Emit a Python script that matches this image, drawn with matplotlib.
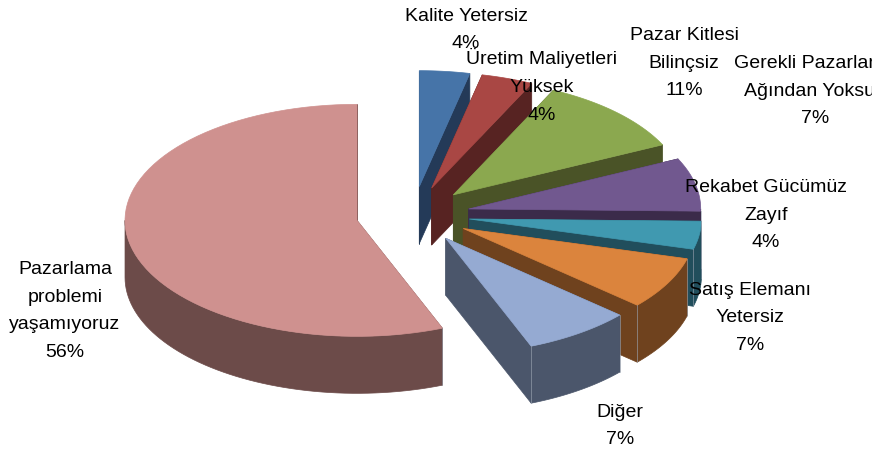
import numpy as np
import matplotlib
matplotlib.use('Agg')
import matplotlib.pyplot as plt
from matplotlib.patches import Polygon

plt.rcParams['font.family'] = ['Liberation Sans', 'DejaVu Sans']

# shares as measured from the slice angles, the labels show the rounded ones
shares = [3.5, 3.6, 10.8, 7.4, 3.9, 7.3, 7.5, 56.0]
labels = ['Kalite Yetersiz\n4%', 'Üretim Maliyetleri\nYüksek\n4%', 'Pazar Kitlesi\nBilinçsiz\n11%',
          'Gerekli Pazarlama\nAğından Yoksun\n7%', 'Rekabet Gücümüz\nZayıf\n4%',
          'Satış Elemanı\nYetersiz\n7%', 'Diğer\n7%', 'Pazarlama\nproblemi\nyaşamıyoruz\n56%']
top_colors = ['#4674A8', '#A94744', '#8BA84F', '#71588F', '#4099B0', '#DB843D', '#95AAD2', '#CF918F']
wall_colors = ['#243A58', '#572322', '#4A5327', '#3B2B4A', '#214E5C', '#6F421E', '#4B566B', '#6C4B49']
label_pos = [(466, 30), (542, 86), (684, 63), (815, 91), (766, 215), (750, 318), (620, 426), (65, 311)]

center_x, center_y = 413, 215
rx, ry = 232, 116
depth = 57
explode = 57


def rim(theta, x0, y0):
    return np.column_stack((x0 + rx * np.sin(theta), y0 - ry * np.cos(theta)))


fig = plt.figure(figsize=(8.72, 4.51), dpi=100)
ax = fig.add_axes([0, 0, 1, 1])
ax.set_xlim(0, 872)
ax.set_ylim(451, 0)
ax.axis('off')

edges = np.radians(np.cumsum([0] + shares) / sum(shares) * 360)
slices = []
for i in range(len(shares)):
    a, b = edges[i], edges[i + 1]
    mid = (a + b) / 2
    x0 = center_x + explode * np.sin(mid)
    y0 = center_y - explode * ry / rx * np.cos(mid)
    slices.append((y0, i, a, b, x0))

# back to front
for y0, i, a, b, x0 in sorted(slices, key=lambda s: s[0]):
    shift = np.array([0, depth])
    apex = np.array([[x0, y0]])

    # cut faces
    for t in (a, b):
        p = rim(np.array([t]), x0, y0)
        quad = np.vstack((apex, p, p + shift, apex + shift))
        ax.add_patch(Polygon(quad, closed=True, fc=wall_colors[i], ec=wall_colors[i], lw=0.5))

    # outer wall, only the front half of the rim can be seen
    lo, hi = max(a, np.pi / 2), min(b, 3 * np.pi / 2)
    if hi > lo:
        arc = rim(np.linspace(lo, hi, 60), x0, y0)
        wall = np.vstack((arc, (arc + shift)[::-1]))
        ax.add_patch(Polygon(wall, closed=True, fc=wall_colors[i], ec=wall_colors[i], lw=0.5))
        for t in (a, b):
            if lo <= t <= hi:
                p = rim(np.array([t]), x0, y0)
                ax.plot([p[0, 0], p[0, 0]], [p[0, 1], p[0, 1] + depth], color='#9AA3B0', lw=0.6, alpha=0.7)

    arc = rim(np.linspace(a, b, 80), x0, y0)
    ax.add_patch(Polygon(np.vstack((apex, arc)), closed=True, fc=top_colors[i], ec=top_colors[i], lw=0.5))

for text, (x, y) in zip(labels, label_pos):
    ax.text(x, y, text, ha='center', va='center', fontsize=14, linespacing=1.82, color='black')

fig.savefig('out.png', dpi=100)
